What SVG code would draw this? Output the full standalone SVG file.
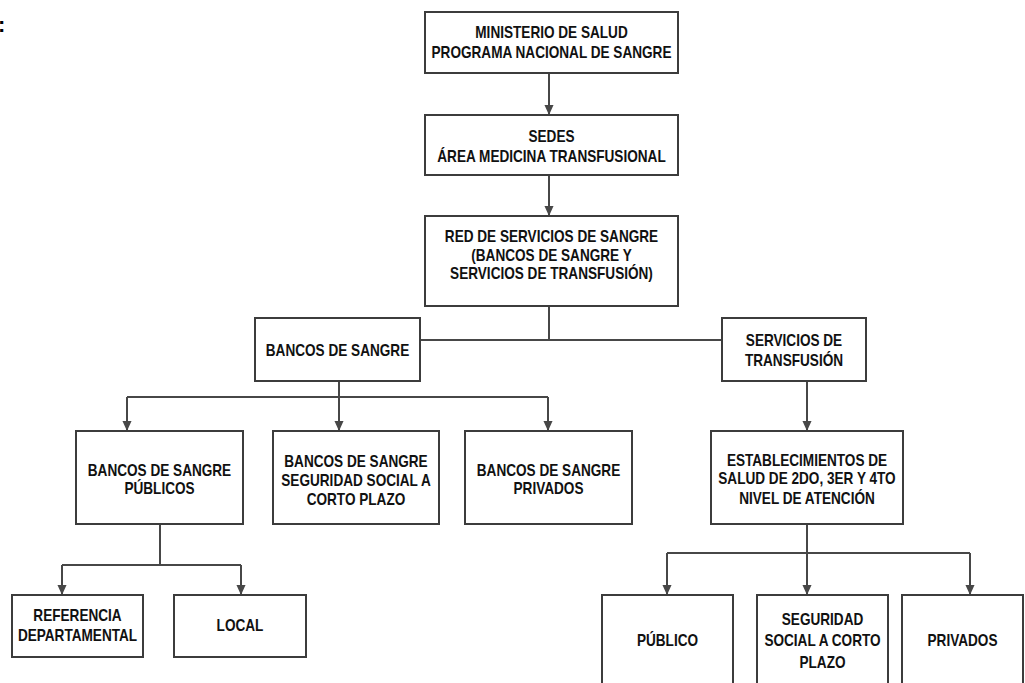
<svg xmlns="http://www.w3.org/2000/svg" width="1025" height="683" viewBox="0 0 1025 683">
<defs>
<style>
.box{fill:#fff;stroke:#3c3c3c;stroke-width:2}
.t{font-family:'Liberation Sans',Arial,sans-serif;font-weight:bold;font-size:16px;fill:#111;text-anchor:middle;transform-box:fill-box;transform-origin:center;transform:scaleX(0.85)}
.c{fill:none;stroke:#474747;stroke-width:2}
</style>
<marker id="ah" markerUnits="userSpaceOnUse" markerWidth="10" markerHeight="12" refX="11" refY="5" orient="auto" viewBox="0 0 11 10">
<path d="M0,0 L11,5 L0,10 z" fill="#474747"/>
</marker>
</defs>
<rect width="1025" height="683" fill="#fff"/>
<text x="-2" y="32" style="font-family:'Liberation Sans',Arial,sans-serif;font-weight:bold;font-size:22px">:</text>
<g id="connectors">
<path class="c" d="M549,73 V115" marker-end="url(#ah)"/>
<path class="c" d="M549,175 V216" marker-end="url(#ah)"/>
<path class="c" d="M549,306 V340 M420,340 H722"/>
<path class="c" d="M339,381 V397 M127,397 H548"/>
<path class="c" d="M127,397 V431" marker-end="url(#ah)"/>
<path class="c" d="M339,397 V431" marker-end="url(#ah)"/>
<path class="c" d="M548,397 V431" marker-end="url(#ah)"/>
<path class="c" d="M807,381 V431" marker-end="url(#ah)"/>
<path class="c" d="M160,524 V565 M62,565 H241"/>
<path class="c" d="M62,565 V595" marker-end="url(#ah)"/>
<path class="c" d="M241,565 V595" marker-end="url(#ah)"/>
<path class="c" d="M807,524 V553 M667,553 H970"/>
<path class="c" d="M667,553 V595" marker-end="url(#ah)"/>
<path class="c" d="M807,553 V595" marker-end="url(#ah)"/>
<path class="c" d="M970,553 V595" marker-end="url(#ah)"/>
</g>
<g id="n1"><rect class="box" x="425" y="12" width="253" height="61"/>
<text class="t" x="551.5" y="38">MINISTERIO DE SALUD</text>
<text class="t" x="551.5" y="58.5">PROGRAMA NACIONAL DE SANGRE</text></g>
<g id="n2"><rect class="box" x="425" y="115" width="253" height="60"/>
<text class="t" x="551.5" y="142">SEDES</text>
<text class="t" x="551.5" y="162">ÁREA MEDICINA TRANSFUSIONAL</text></g>
<g id="n3"><rect class="box" x="425" y="216" width="253" height="90"/>
<text class="t" x="551.5" y="242">RED DE SERVICIOS DE SANGRE</text>
<text class="t" x="551.5" y="261">(BANCOS DE SANGRE Y</text>
<text class="t" x="551.5" y="279">SERVICIOS DE TRANSFUSIÓN)</text></g>
<g id="n4"><rect class="box" x="255" y="318" width="165" height="63"/>
<text class="t" x="337.5" y="356">BANCOS DE SANGRE</text></g>
<g id="n5"><rect class="box" x="722" y="318" width="144" height="63"/>
<text class="t" x="794" y="346">SERVICIOS DE</text>
<text class="t" x="794" y="366">TRANSFUSIÓN</text></g>
<g id="n6"><rect class="box" x="76" y="431" width="167" height="93"/>
<text class="t" x="159.5" y="476">BANCOS DE SANGRE</text>
<text class="t" x="159.5" y="494">PÚBLICOS</text></g>
<g id="n7"><rect class="box" x="273" y="431" width="166" height="93"/>
<text class="t" x="356" y="467.5">BANCOS DE SANGRE</text>
<text class="t" x="356" y="486">SEGURIDAD SOCIAL A</text>
<text class="t" x="356" y="505.5">CORTO PLAZO</text></g>
<g id="n8"><rect class="box" x="465" y="431" width="167" height="93"/>
<text class="t" x="548.5" y="476">BANCOS DE SANGRE</text>
<text class="t" x="548.5" y="494">PRIVADOS</text></g>
<g id="n9"><rect class="box" x="711" y="431" width="192" height="93"/>
<text class="t" x="807" y="466">ESTABLECIMIENTOS DE</text>
<text class="t" x="807" y="484.5">SALUD DE 2DO, 3ER Y 4TO</text>
<text class="t" x="807" y="504">NIVEL DE ATENCIÓN</text></g>
<g id="n10"><rect class="box" x="12" y="595" width="131" height="62"/>
<text class="t" x="77.5" y="621">REFERENCIA</text>
<text class="t" x="77.5" y="641.5">DEPARTAMENTAL</text></g>
<g id="n11"><rect class="box" x="174" y="595" width="132" height="62"/>
<text class="t" x="240" y="631.5">LOCAL</text></g>
<g id="n12"><rect class="box" x="602" y="595" width="131" height="95"/>
<text class="t" x="667.5" y="646">PÚBLICO</text></g>
<g id="n13"><rect class="box" x="757" y="595" width="131" height="95"/>
<text class="t" x="822.5" y="625">SEGURIDAD</text>
<text class="t" x="822.5" y="646">SOCIAL A CORTO</text>
<text class="t" x="822.5" y="668">PLAZO</text></g>
<g id="n14"><rect class="box" x="902" y="595" width="121" height="95"/>
<text class="t" x="962.5" y="646">PRIVADOS</text></g>
</svg>
